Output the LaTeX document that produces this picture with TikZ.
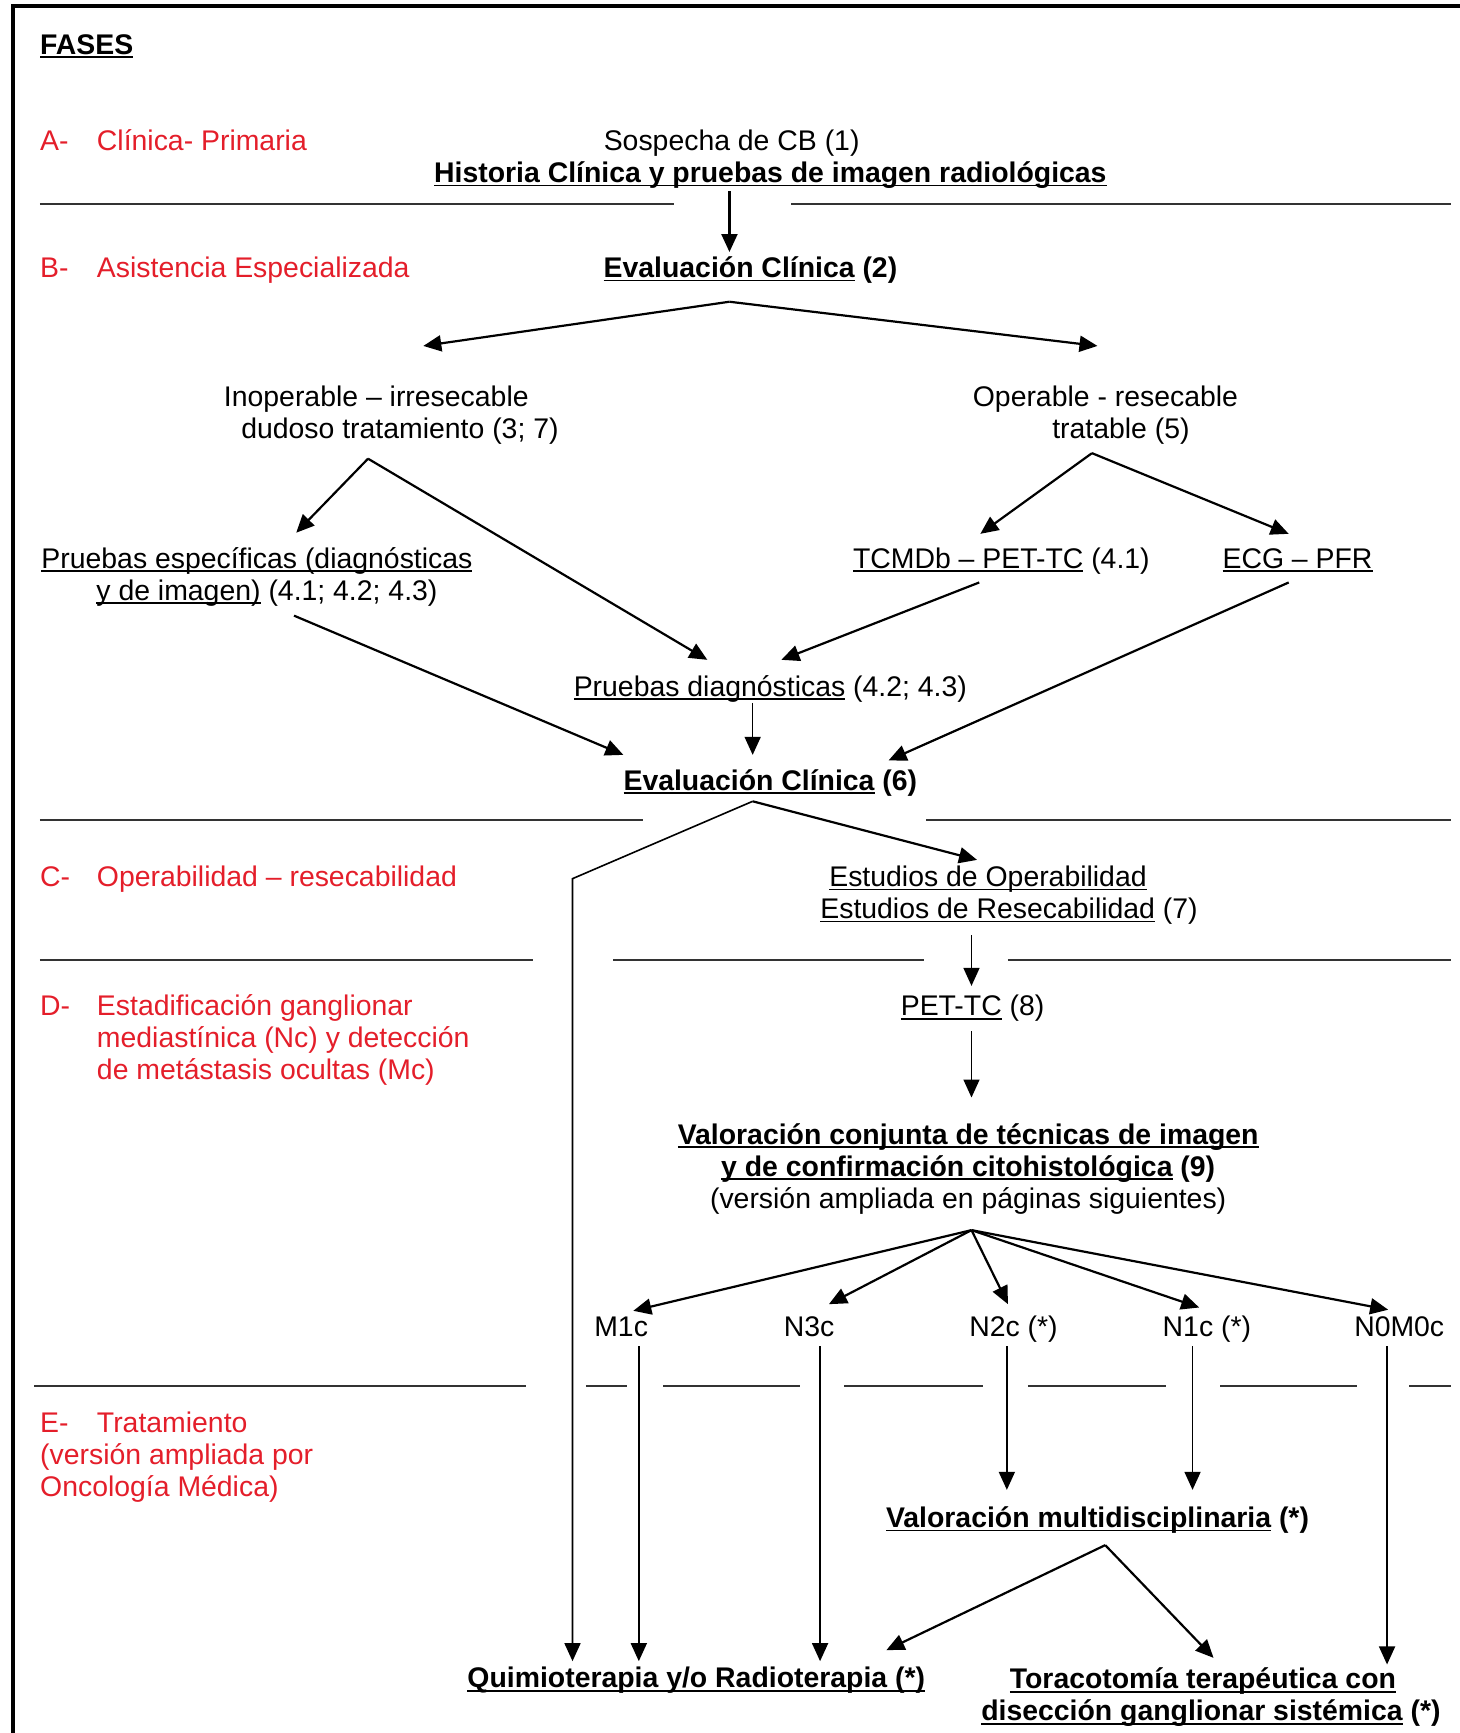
\documentclass[tikz,border=0pt]{standalone}
\usepackage{fontspec}
\setmainfont{Liberation Sans}
\usetikzlibrary{arrows.meta, calc}
\definecolor{rojofase}{RGB}{228,30,42}
\newcommand{\letra}{\fontsize{14.2}{16}\selectfont}
\newsavebox{\cajasub}
\newcommand{\subrayar}[1]{\sbox{\cajasub}{#1}\rlap{\rule[-0.14em]{\wd\cajasub}{0.065em}}\usebox{\cajasub}}

\tikzset{
  fase/.style={text=rojofase, anchor=base west, inner sep=0pt, align=left},
  paso/.style={anchor=base, inner sep=0pt, align=center},
  negrita/.style={font=\letra\bfseries},
  flecha/.style={-{Triangle[length=9pt, width=8pt]}, line width=1.1pt},
  flechafina/.style={-{Triangle[length=9pt, width=8pt]}, line width=0.8pt},
  regla/.style={line width=1pt, black!80},
}

\begin{document}
\begin{tikzpicture}[x=0.5526pt, y=-0.5526pt, font=\letra]
    \useasboundingbox (0,0) rectangle (1321,1568);
    % Marco
    \draw[line width=1.8pt] (12,1568) -- (12,5.5) -- (1321,5.5);
    % Fases (base = ultima linea)
    \node[anchor=base west, inner sep=0pt, negrita] (fases) at (36,49) {\subrayar{FASES}};
    \node[fase] (faseA) at (36,136) {\makebox[2em][l]{A-}Clínica- Primaria};
    \node[fase] (faseB) at (36,251) {\makebox[2em][l]{B-}Asistencia Especializada};
    \node[fase] (faseC) at (36,802) {\makebox[2em][l]{C-}Operabilidad – resecabilidad};
    \node[fase] (faseD) at (36,977) {\makebox[2em][l]{D-}Estadificación ganglionar\\\hspace*{2em}mediastínica (Nc) y detección\\\hspace*{2em}de metástasis ocultas (Mc)};
    \node[fase] (faseE) at (36,1354) {\makebox[2em][l]{E-}Tratamiento\\(versión ampliada por\\Oncología Médica)};
    % Lineas de separacion
    \foreach \y/\a/\b in {185/36/610, 185/716/1313, 742/36/582, 742/838/1313,
      869/36/482, 869/555/836, 869/912/1313,
      1254/31/476, 1254/530/567, 1254/600/724, 1254/764/889,
      1254/930/1055, 1254/1104/1228, 1254/1275/1313}
      \draw[regla] (\a,\y) -- (\b,\y);
    % Pasos
    \node[paso] (sospecha) at (662,136) {Sospecha de CB (1)};
    \node[paso, negrita] (historia) at (697,165) {\subrayar{Historia Clínica y pruebas de imagen radiológicas}};
    \node[paso, negrita] (eval2) at (679,251) {\subrayar{Evaluación Clínica} (2)};
    \node[paso] (inoper) at (351,397) {Inoperable – irresecable\hspace*{11.6pt}\\\hspace*{12pt}dudoso tratamiento (3; 7)};
    \node[paso] (oper) at (1007,397) {Operable - resecable\hspace*{7.5pt}\\\hspace*{8pt}tratable (5)};
    \node[paso] (pesp) at (237,543) {\subrayar{Pruebas específicas (diagnósticas}\hspace*{5pt}\\\hspace*{5pt}\subrayar{y de imagen)} (4.1; 4.2; 4.3)};
    \node[paso] (tcmdb) at (906,514) {\subrayar{TCMDb – PET-TC} (4.1)};
    \node[paso] (ecg) at (1174,514) {\subrayar{ECG – PFR}};
    \node[paso] (pdiag) at (697,630) {\subrayar{Pruebas diagnósticas} (4.2; 4.3)};
    \node[paso, negrita] (eval6) at (697,715) {\subrayar{Evaluación Clínica} (6)};
    \node[paso] (estudios) at (903,831) {\subrayar{Estudios de Operabilidad}\hspace*{10pt}\\\hspace*{11pt}\subrayar{Estudios de Resecabilidad} (7)};
    \node[paso] (pettc) at (880,919) {\subrayar{PET-TC} (8)};
    \node[paso, negrita] (valcon) at (876,1093) {\subrayar{Valoración conjunta de técnicas de imagen}\\\subrayar{y de confirmación citohistológica} (9)\\\mdseries(versión ampliada en páginas siguientes)};
    \node[paso] (m1c) at (562,1209) {M1c};
    \node[paso] (n3c) at (732,1209) {N3c};
    \node[paso] (n2c) at (917,1209) {N2c (*)};
    \node[paso] (n1c) at (1092,1209) {N1c (*)};
    \node[paso] (n0m0c) at (1266,1209) {N0M0c};
    \node[paso, negrita] (valmul) at (993,1382) {\subrayar{Valoración multidisciplinaria} (*)};
    \node[paso, negrita] (quimio) at (630,1527) {\subrayar{Quimioterapia y/o Radioterapia (*)}};
    \node[paso, negrita] (toraco) at (1092,1557) {\subrayar{Toracotomía terapéutica con}\hspace*{4pt}\\\hspace*{4pt}\subrayar{disección ganglionar sistémica} (*)};
    % Flechas
    \draw[flecha] ([shift={(-37,8)}]historia.base) -- ([shift={(-19,-23)}]eval2.base);
    \draw[flecha] ([shift={(-19,22)}]eval2.base) -- ([shift={(32,-84)}]inoper.base);
    \draw[flecha] ([shift={(-19,22)}]eval2.base) -- ([shift={(-14,-84)}]oper.base);
    \draw[flecha] ([shift={(-18,18)}]inoper.base) -- ([shift={(31,-61)}]pesp.base);
    \draw[flecha] ([shift={(-18,18)}]inoper.base) -- ([shift={(-57,-33)}]pdiag.base);
    \draw[flecha] ([shift={(-19,13)}]oper.base) -- ([shift={(-19,-31)}]tcmdb.base);
    \draw[flecha] ([shift={(-19,13)}]oper.base) -- ([shift={(-8,-31)}]ecg.base);
    \draw[flecha] ([shift={(29,14)}]pesp.base) -- ([shift={(-133,-32)}]eval6.base);
    \draw[flecha] ([shift={(-20,13)}]tcmdb.base) -- ([shift={(10,-33)}]pdiag.base);
    \draw[flecha] ([shift={(-8,13)}]ecg.base) -- ([shift={(107,-27)}]eval6.base);
    \draw[flechafina] ([shift={(-16,6)}]pdiag.base) -- ([shift={(-16,-32)}]eval6.base);
    \coordinate (codo) at (518,795);
    \draw[flechafina] ([shift={(-16,10)}]eval6.base) -- (codo) -- ([shift={(-112,-24)}]quimio.base);
    \draw[flecha] ([shift={(-16,10)}]eval6.base) -- ([shift={(-19,-53)}]estudios.base);
    \draw[flechafina] ([shift={(-24,15)}]estudios.base) -- ([shift={(-1,-27)}]pettc.base);
    \draw[flechafina] ([shift={(-1,14)}]pettc.base) -- ([shift={(3,-100)}]valcon.base);
    % Abanico hacia los estadios
    \draw[flecha] ([shift={(3,20)}]valcon.base) -- ([shift={(11,-23)}]m1c.base);
    \draw[flecha] ([shift={(3,20)}]valcon.base) -- ([shift={(18,-29)}]n3c.base);
    \draw[flecha] ([shift={(3,20)}]valcon.base) -- ([shift={(-5,-29)}]n2c.base);
    \draw[flecha] ([shift={(3,20)}]valcon.base) -- ([shift={(-7,-26)}]n1c.base);
    \draw[flecha] ([shift={(3,20)}]valcon.base) -- ([shift={(-10,-24)}]n0m0c.base);
    % Tratamiento
    \draw[flechafina] ([shift={(16,9)}]m1c.base) -- ([shift={(-52,-24)}]quimio.base);
    \draw[flechafina] ([shift={(10,9)}]n3c.base) -- ([shift={(112,-24)}]quimio.base);
    \draw[flechafina] ([shift={(-6,9)}]n2c.base) -- ([shift={(-82,-34)}]valmul.base);
    \draw[flechafina] ([shift={(-13,9)}]n1c.base) -- ([shift={(86,-34)}]valmul.base);
    \draw[flechafina] ([shift={(-11,9)}]n0m0c.base) -- ([shift={(163,-51)}]toraco.base);
    \draw[flecha] ([shift={(7,16)}]valmul.base) -- ([shift={(172,-34)}]quimio.base);
    \draw[flecha] ([shift={(7,16)}]valmul.base) -- ([shift={(6,-57)}]toraco.base);
\end{tikzpicture}
\end{document}
